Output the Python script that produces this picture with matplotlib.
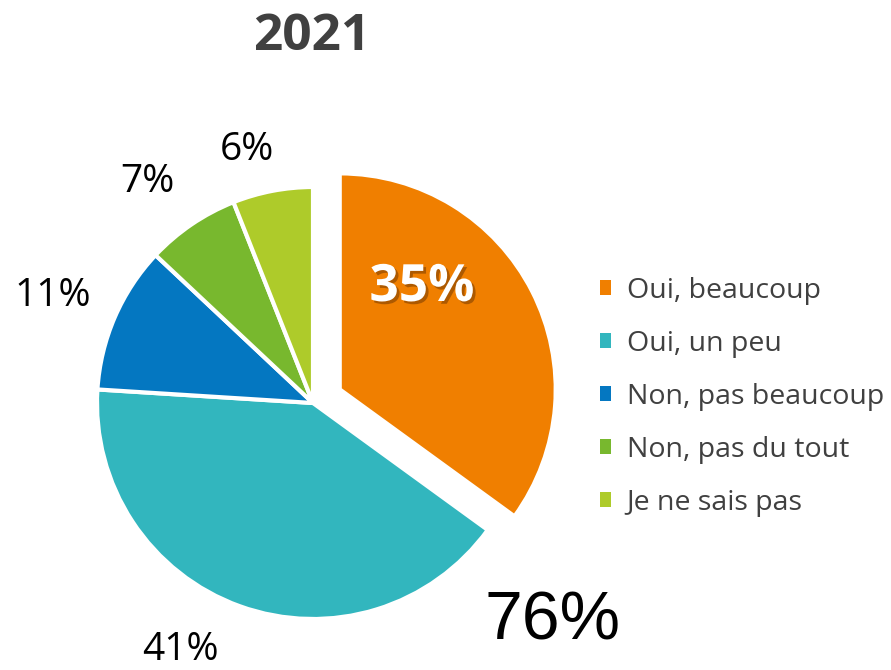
import matplotlib.pyplot as plt
import matplotlib.patheffects as pe
from matplotlib.patches import Patch

W, H = 891, 670

categories = ['Oui, beaucoup', 'Oui, un peu', 'Non, pas beaucoup',
              'Non, pas du tout', 'Je ne sais pas']
valeurs = [35, 41, 11, 7, 6]
couleurs = ['#F07F00', '#32B6BE', '#0477C1', '#78B82E', '#AECB2A']
titre = '2021'
total_oui = '76%'

# position des etiquettes (pixels, origine en haut a gauche)
pos_etiquettes = [(422, 288), (180, 650), (53, 296), (147, 182), (247, 150)]

fig = plt.figure(figsize=(W / 100, H / 100), dpi=100)
ax = fig.add_axes([0, 0, 1, 1])

rayon = 216
centre = (313, H - 403)
ax.pie(valeurs, colors=couleurs, startangle=90, counterclock=False,
       explode=[30, 0, 0, 0, 0], radius=rayon, center=centre,
       wedgeprops=dict(edgecolor='white', linewidth=3))

ax.set_xlim(0, W)
ax.set_ylim(0, H)
ax.set_aspect('equal')
ax.axis('off')

for i, v in enumerate(valeurs):
    x, y = pos_etiquettes[i]
    if i == 0:
        ax.text(x, H - y, f'{v}%', ha='center', va='center', color='white',
                fontsize=37, fontweight='bold', family='Open Sans',
                path_effects=[pe.SimplePatchShadow(offset=(2, -2), shadow_rgbFace='#6b3500', alpha=0.5),
                              pe.Normal()])
    else:
        ax.text(x, H - y, f'{v}%', ha='center', va='center', color='black',
                fontsize=28, family='Open Sans')

ax.text(312, H - 37, titre, ha='center', va='center', color='#404040',
        fontsize=37, fontweight='bold', family='Open Sans')

ax.text(552, H - 622, total_oui, ha='center', va='center', color='black',
        fontsize=49, family='Liberation Sans')

poignees = [Patch(facecolor=c, edgecolor='none') for c in couleurs]
leg = fig.legend(poignees, categories, loc='upper left',
                 bbox_to_anchor=(574 / W, 1 - 251 / H), frameon=False,
                 prop=dict(family='Open Sans', size=20.5), labelcolor='#404040',
                 handlelength=0.4, handleheight=0.4, handletextpad=0.55,
                 labelspacing=0.88)

fig.savefig('out.png', dpi=100)
